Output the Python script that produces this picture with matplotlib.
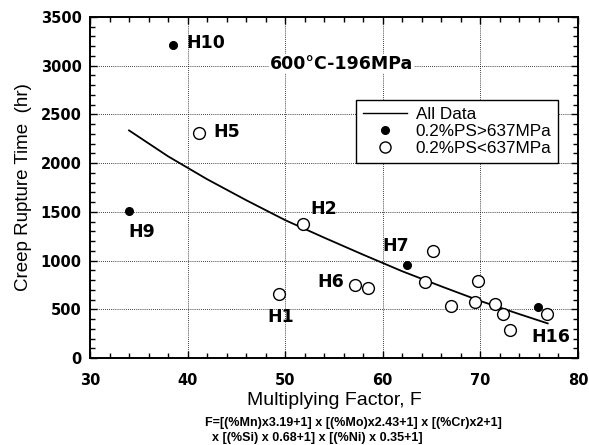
import matplotlib
matplotlib.use("Agg")
import matplotlib.pyplot as plt
from matplotlib.ticker import MultipleLocator
from matplotlib.lines import Line2D

# Fitted trend ("All Data")
fit_factor = [34, 38, 42, 46, 50, 54, 58, 62, 66, 70, 74, 76.9]
fit_time = [2336, 2070, 1835, 1620, 1415, 1235, 1060, 890, 735, 585, 450, 355]

# 0.2%PS > 637MPa (filled)
high_factor = [34.0, 38.5, 62.5, 75.9]
high_time = [1510, 3210, 950, 520]

# 0.2%PS < 637MPa (open)
low_factor = [41.2, 51.8, 49.4, 57.2, 58.5, 65.1, 64.3, 67.0, 69.8, 69.4, 71.5, 72.3, 73.0, 76.8]
low_time = [2310, 1375, 655, 750, 715, 1095, 775, 530, 795, 570, 555, 450, 290, 450]

# heat labels
heat_names = ["H10", "H5", "H9", "H2", "H1", "H6", "H7", "H16"]
heat_x = [41.9, 44.0, 35.3, 53.9, 49.5, 54.7, 61.3, 77.2]
heat_y = [3230, 2316, 1294, 1532, 424, 776, 1149, 217]

condition = "600°C-196MPa"
formula_1 = "F=[(%Mn)x3.19+1] x [(%Mo)x2.43+1] x [(%Cr)x2+1]"
formula_2 = "x [(%Si) x 0.68+1] x [(%Ni) x 0.35+1]"

bold = "DejaVu Sans"
plain = "Liberation Sans"

fig = plt.figure(figsize=(5.89, 4.45), dpi=100)
ax = fig.add_axes([0.1528, 0.1955, 0.8285, 0.7663])

ax.plot(fit_factor, fit_time, color="black", linewidth=1.3, zorder=3)
ax.plot(high_factor, high_time, "o", color="black", markersize=5.5, zorder=4)
ax.plot(low_factor, low_time, "o", markerfacecolor="white", markeredgecolor="black",
        markeredgewidth=1.0, markersize=8.5, zorder=4)

ax.set_xlim(30, 80)
ax.set_ylim(0, 3500)
ax.xaxis.set_major_locator(MultipleLocator(10))
ax.xaxis.set_minor_locator(MultipleLocator(2))
ax.yaxis.set_major_locator(MultipleLocator(500))
ax.yaxis.set_minor_locator(MultipleLocator(100))
ax.tick_params(which="both", direction="in", top=True, right=True, width=1.0)
ax.tick_params(which="major", length=5)
ax.tick_params(which="minor", length=3.5)
ax.tick_params(axis="x", which="major", pad=11)
ax.tick_params(axis="y", which="major", pad=6)
for lab in ax.get_xticklabels() + ax.get_yticklabels():
    lab.set_fontfamily(bold)
    lab.set_fontweight("bold")
    lab.set_fontsize(10.5)
for sp in ax.spines.values():
    sp.set_linewidth(1.4)

ax.grid(True, which="major", color="black", linestyle=(0, (1, 1.5)), linewidth=0.6)
ax.set_axisbelow(True)

for name, x, y in zip(heat_names, heat_x, heat_y):
    ax.text(x, y, name, ha="center", va="center", fontfamily=bold,
            fontweight="bold", fontsize=12.5, zorder=5)

ax.text(55.8, 3020, condition, ha="center", va="center", fontfamily=bold,
        fontweight="bold", fontsize=12.5, zorder=5,
        bbox=dict(facecolor="white", edgecolor="none", pad=0.5))

ax.set_xlabel("Multiplying Factor, F", fontfamily=plain, fontsize=14, labelpad=3)
ax.set_ylabel("Creep Rupture Time  (hr)", fontfamily=plain, fontsize=13.5, labelpad=6)

fig.text(205 / 589, 1 - 423 / 445, formula_1, ha="left", va="center",
         fontfamily=plain, fontweight="bold", fontsize=9.0)
fig.text(212 / 589, 1 - 438 / 445, formula_2, ha="left", va="center",
         fontfamily=plain, fontweight="bold", fontsize=9.0)

handles = [
    Line2D([], [], color="black", linewidth=1.0),
    Line2D([], [], marker="o", linestyle="none", color="black", markersize=5.5),
    Line2D([], [], marker="o", linestyle="none", markerfacecolor="white",
           markeredgecolor="black", markersize=8),
]
leg = ax.legend(handles, ["All Data", "0.2%PS>637MPa", "0.2%PS<637MPa"],
                loc="upper left", bbox_to_anchor=(0.545, 0.757), borderaxespad=0,
                prop={"family": plain, "size": 12.3}, frameon=True, fancybox=False,
                edgecolor="black", framealpha=1, handlelength=2.6, handletextpad=0.5,
                labelspacing=0.12, borderpad=0.4, numpoints=1)
leg.get_frame().set_linewidth(1.0)
leg.set_zorder(6)

fig.savefig("out.png", dpi=100)
